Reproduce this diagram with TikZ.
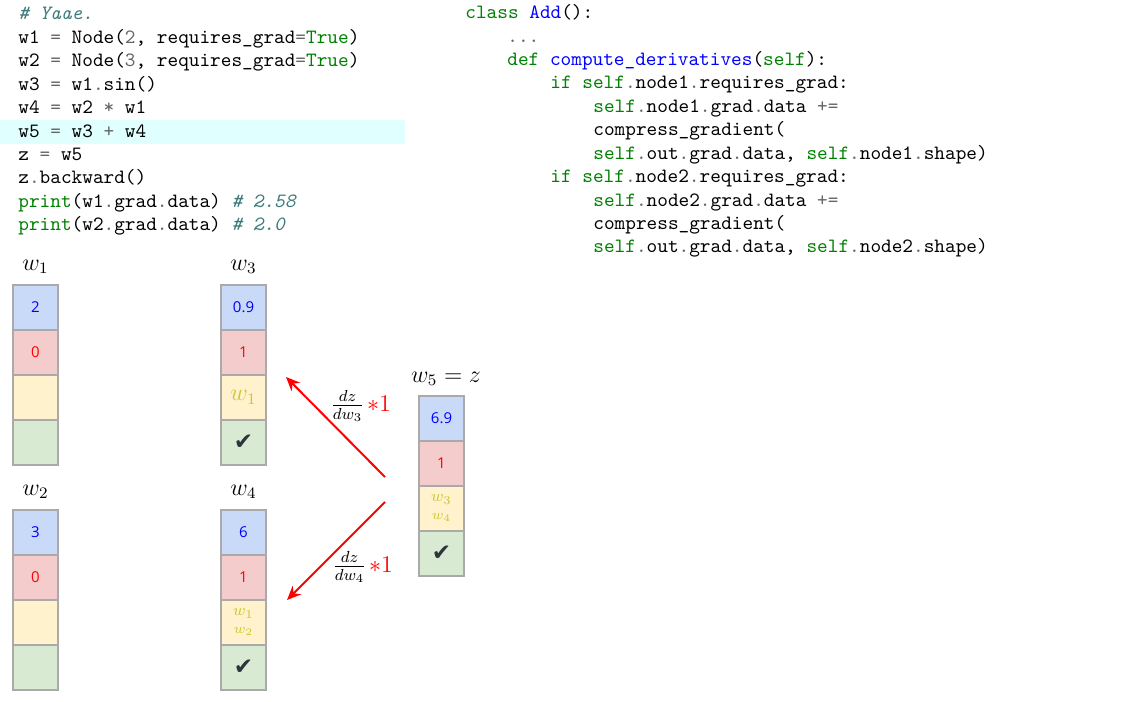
\documentclass[tikz,border=0pt]{standalone}
\usepackage{fontspec}
\usepackage{tikz}
\usetikzlibrary{arrows.meta,positioning}

\newfontfamily\cellfont{Open Sans}
\newfontfamily\symfont{DejaVu Sans}

\definecolor{codegreen}{RGB}{0,128,0}
\definecolor{codegray}{RGB}{102,102,102}
\definecolor{codeblue}{RGB}{0,0,255}
\definecolor{codecomment}{RGB}{61,123,123}
\definecolor{hlcyan}{RGB}{224,255,255}
\definecolor{valfill}{RGB}{201,218,248}
\definecolor{gradfill}{RGB}{244,204,204}
\definecolor{parfill}{RGB}{255,242,204}
\definecolor{donefill}{RGB}{217,234,211}
\definecolor{cellborder}{RGB}{170,170,170}
\definecolor{partext}{RGB}{200,200,50}
\definecolor{checkgray}{RGB}{45,52,60}

\newcommand{\kw}[1]{\textcolor{codegreen}{#1}}
\newcommand{\op}[1]{\textcolor{codegray}{#1}}
\newcommand{\fn}[1]{\textcolor{codeblue}{#1}}
\newcommand{\cmt}[1]{\textcolor{codecomment}{\itshape #1}}
\newcommand{\checkmk}{{\symfont\fontsize{11.5}{13}\selectfont\textcolor{checkgray}{✔}}}

\begin{document}
\begin{tikzpicture}[x=0.5pt,y={(0pt,-0.5pt)}]

\tikzset{
  code/.style = {anchor=base west, inner sep=0pt, font=\ttfamily\fontsize{10.15}{12}\selectfont},
  cell/.style = {draw=cellborder, line width=0.7pt, minimum width=22.5pt, minimum height=22.5pt,
                 inner sep=0pt, outer sep=0pt, align=center, font=\cellfont\fontsize{7.5}{9}\selectfont},
  valcell/.style = {cell, fill=valfill, text=blue},
  gradcell/.style = {cell, fill=gradfill, text=red},
  parcell/.style = {cell, fill=parfill, text=partext},
  donecell/.style = {cell, fill=donefill},
  varlabel/.style = {inner sep=0pt, font=\fontsize{12}{14}\selectfont},
  backarrow/.style = {draw=red, line width=1pt, -{Stealth[length=7pt,width=6pt]}},
  dlabel/.style = {anchor=west, inner sep=0pt, font=\fontsize{11.5}{13}\selectfont}
}

\useasboundingbox (0,0) rectangle (1123,701);

% code, left
\fill[hlcyan] (0,120) rectangle (405,144);
\node[code] (c1) at (18,20.0) {\cmt{\# Yaae.}};
\node[code] (c2) at (18,43.4) {w1 \op{=} Node(\op{2}, requires\_grad\op{=}\kw{True})};
\node[code] (c3) at (18,66.8) {w2 \op{=} Node(\op{3}, requires\_grad\op{=}\kw{True})};
\node[code] (c4) at (18,90.2) {w3 \op{=} w1\op{.}sin()};
\node[code] (c5) at (18,113.6) {w4 \op{=} w2 \op{*} w1};
\node[code] (c6) at (18,137.0) {w5 \op{=} w3 \op{+} w4};
\node[code] (c7) at (18,160.4) {z \op{=} w5};
\node[code] (c8) at (18,183.8) {z\op{.}backward()};
\node[code] (c9) at (18,207.2) {\kw{print}(w1\op{.}grad\op{.}data) \cmt{\# 2.58}};
\node[code] (c10) at (18,230.6) {\kw{print}(w2\op{.}grad\op{.}data) \cmt{\# 2.0}};

% code, right
\node[code] (d1) at (465,18.8) {\kw{class} \fn{Add}():};
\node[code] (d2) at (507,42.2) {\op{...}};
\node[code] (d3) at (507,65.6) {\kw{def} \fn{compute\_derivatives}(\kw{self}):};
\node[code] (d4) at (550,89.0) {\kw{if} \kw{self}\op{.}node1\op{.}requires\_grad:};
\node[code] (d5) at (593,112.4) {\kw{self}\op{.}node1\op{.}grad\op{.}data \op{+=}};
\node[code] (d6) at (593,135.8) {compress\_gradient(};
\node[code] (d7) at (593,159.2) {\kw{self}\op{.}out\op{.}grad\op{.}data, \kw{self}\op{.}node1\op{.}shape)};
\node[code] (d8) at (550,182.6) {\kw{if} \kw{self}\op{.}node2\op{.}requires\_grad:};
\node[code] (d9) at (593,206.0) {\kw{self}\op{.}node2\op{.}grad\op{.}data \op{+=}};
\node[code] (d10) at (593,229.4) {compress\_gradient(};
\node[code] (d11) at (593,252.8) {\kw{self}\op{.}out\op{.}grad\op{.}data, \kw{self}\op{.}node2\op{.}shape)};

% variable columns
\foreach \n/\x/\y/\v/\g/\p/\c in {
  w1/13/285/2/0/{}/{},
  w2/13/510/3/0/{}/{},
  w3/221/285/0.9/1/{\fontsize{12}{14}\selectfont$w_1$}/{\checkmk},
  w4/221/510/6/1/{\fontsize{8}{10}\selectfont$w_1$\\$w_2$}/{\checkmk},
  w5/419/396/6.9/1/{\fontsize{8}{10}\selectfont$w_3$\\$w_4$}/{\checkmk}}
{
  \node[valcell, anchor=north west] (\n-v) at (\x,\y) {\v};
  \node[gradcell, below=0pt of \n-v] (\n-g) {\g};
  \node[parcell, below=0pt of \n-g] (\n-p) {\p};
  \node[donecell, below=0pt of \n-p] (\n-d) {\c};
}

\node[varlabel] (l1) at (35.5,267) {$w_1$};
\node[varlabel] (l3) at (243.5,267) {$w_3$};
\node[varlabel] (l2) at (35.5,492) {$w_2$};
\node[varlabel] (l4) at (243.5,492) {$w_4$};
\node[varlabel] (l5) at (446,379) {$w_5 = z$};

% backward pass
\coordinate (from3) at (385,477);
\coordinate (to3) at (286,377);
\coordinate (from4) at (385,502);
\coordinate (to4) at (287,600);
\draw[backarrow] (from3) -- (to3);
\draw[backarrow] (from4) -- (to4);
\node[dlabel] (g3) at (330,406) {$\frac{dz}{dw_3}\mkern2mu\textcolor{red}{{*}1}$};
\node[dlabel] (g4) at (332,567) {$\frac{dz}{dw_4}\mkern2mu\textcolor{red}{{*}1}$};

\end{tikzpicture}
\end{document}
